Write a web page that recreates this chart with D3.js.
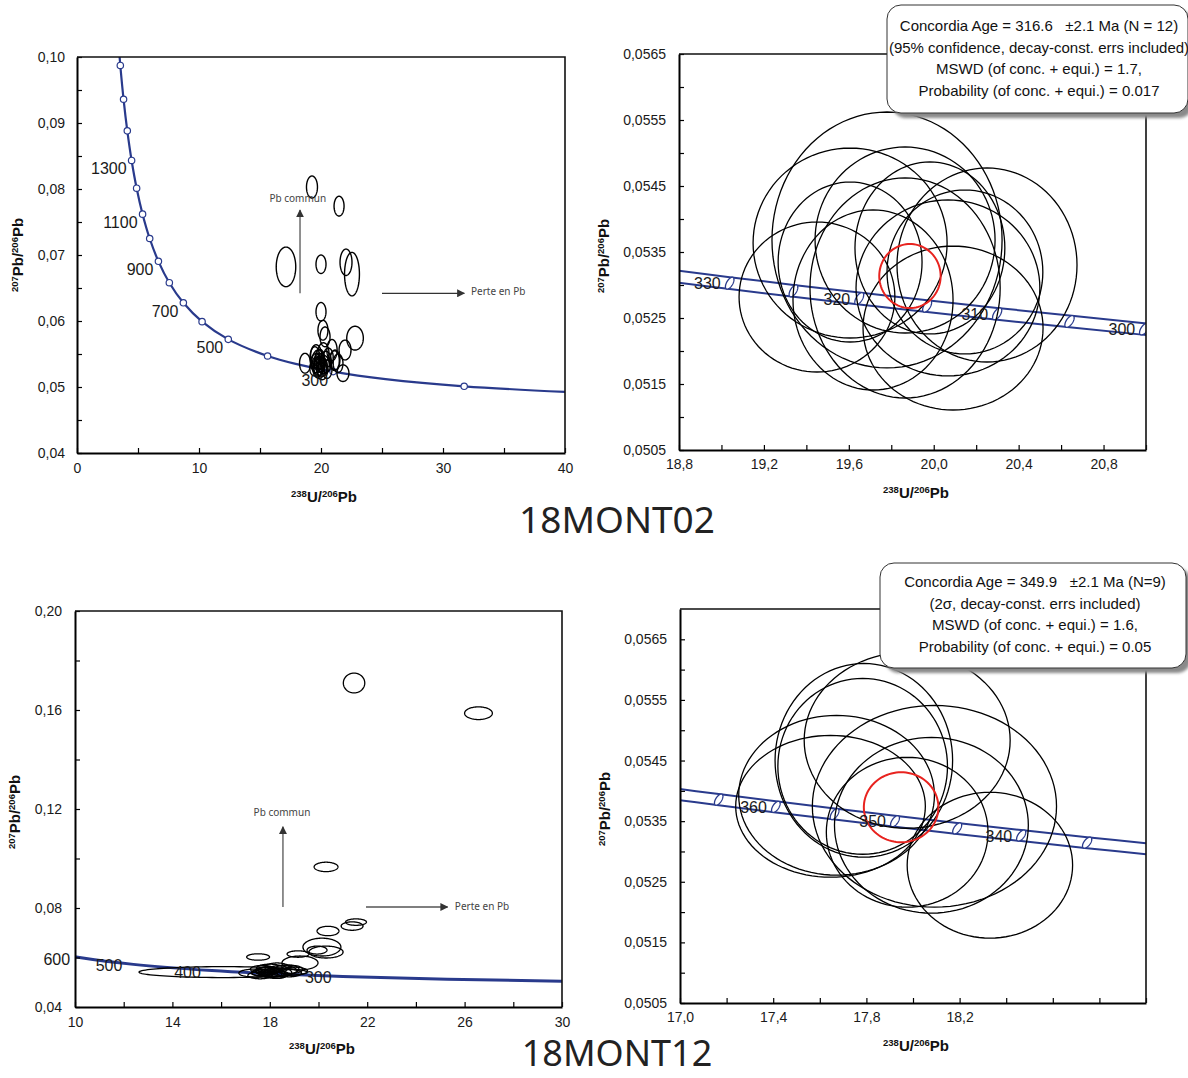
<!DOCTYPE html>
<html><head><meta charset="utf-8">
<script src="https://cdn.jsdelivr.net/npm/d3@7"></script>
<style>body{margin:0;background:#fff}svg{display:block}</style>
</head><body><svg id="c" width="1188" height="1078"></svg>
<script>
// ---------------- DATA ----------------
// Tera-Wasserburg concordia (age in Ma, 238U/206Pb, 207Pb/206Pb)
const concAges = [150,200,250,300,350,400,500,600,700,800,900,1000,1100,1200,1300,1400,1500,1600,1700];
const concX = [42.478,31.735,25.289,20.992,17.923,15.621,12.399,10.252,8.718,7.568,6.674,5.959,5.375,4.888,4.476,4.123,3.817,3.550,3.314];
const concY = [0.049045,0.050108,0.051204,0.052333,0.053499,0.054700,0.057220,0.059901,0.062757,0.065800,0.069042,0.072500,0.076188,0.080122,0.084324,0.088807,0.093597,0.098716,0.104185];
const p1MarkerAges = [200,300,400,500,600,700,800,900,1000,1100,1200,1300,1400,1500,1600];
const p1LabelAges = [300,500,700,900,1100,1300];
const p3LabelAges = [300,400,500,600];

// Concordia with decay-constant error band (zoomed panels)
const band02Ages = [295,300,305,310,315,320,325,330,335];
const band02X = [21.3560,20.9919,20.6397,20.2989,19.9689,19.6492,19.3393,19.0389,18.7474];
const band02Y = [0.0522187,0.0523333,0.0524482,0.0525634,0.0526791,0.0527950,0.0529114,0.0530281,0.0531452];
const band02Markers = [300,305,310,315,320,325,330];
const band02Labels = [300,310,320,330];
const band12Ages = [330,335,340,345,350,355,360,365,370];
const band12X = [19.0389,18.7474,18.4644,18.1897,17.9228,17.6635,17.4114,17.1661,16.9275];
const band12Y = [0.0530281,0.0531452,0.0532626,0.0533804,0.0534986,0.0536171,0.0537360,0.0538552,0.0539748];
const band12Markers = [335,340,345,350,355,360,365];
const band12Labels = [340,350,360];
const decayErrX = 0.00106, decayErrY = 0.0017, decayRho = 0.6;

// 18MONT02 concordant analyses (2 sigma ellipses)
const c02X  = [19.450,19.606,19.780,20.251,20.067,19.865,19.714,19.606,20.147,19.982,20.091,19.865];
const c02Y  = [0.052818,0.053636,0.053682,0.053303,0.052955,0.052955,0.052773,0.053348,0.053197,0.053561,0.052348,0.053682];
const c02SX = [0.367,0.457,0.542,0.424,0.433,0.448,0.377,0.339,0.367,0.353,0.424,0.424];
const c02SY = [0.001136,0.001439,0.001939,0.00147,0.001333,0.001667,0.001364,0.001212,0.001242,0.001303,0.001242,0.001409];
// 18MONT02 other analyses
const o02X  = [19.26,21.48,17.13,20.0,22.05,22.54,20.0,20.33,20.16,22.79,21.97,21.8,18.69,21.15,19.6,20.2,20.6,20.9,21.1,20.4,19.9,21.4,19.8,20.5,19.5];
const o02Y  = [0.0803,0.0774,0.0682,0.0686,0.0689,0.0671,0.0614,0.0576,0.0586,0.0574,0.0556,0.0521,0.0536,0.0541,0.0548,0.0552,0.0545,0.0556,0.0540,0.0538,0.0542,0.0536,0.0531,0.0527,0.0545];
const o02SX = [0.45,0.41,0.8,0.41,0.49,0.61,0.41,0.41,0.41,0.68,0.49,0.49,0.45,0.4,0.45,0.45,0.4,0.42,0.4,0.45,0.4,0.4,0.4,0.4,0.4];
const o02SY = [0.00167,0.0015,0.003,0.0014,0.002,0.0033,0.0014,0.0015,0.0015,0.0018,0.0015,0.00126,0.0015,0.0015,0.0016,0.0015,0.0014,0.0016,0.0015,0.0016,0.0015,0.0014,0.0015,0.0014,0.0016];
// Concordia age ellipse 18MONT02
const age02 = [19.888, 0.053136, 0.1446, 0.000485];

// 18MONT12 concordant analyses
const c12X  = [17.789,17.784,17.975,18.092,18.330,17.646,17.672,18.079,17.975];
const c12Y  = [0.054503,0.054404,0.054833,0.053745,0.052773,0.053745,0.053927,0.053432,0.053317];
const c12SX = [0.381,0.364,0.442,0.524,0.355,0.407,0.420,0.416,0.347];
const c12SY = [0.001598,0.00145,0.00145,0.001664,0.001203,0.00117,0.001318,0.00145,0.001236];
// 18MONT12 other analyses
const o12X  = [21.46,26.57,20.31,21.54,21.38,20.39,20.14,19.94,20.31,19.16,17.52,19.24,16.08,17.39,18.3,18.0,18.7,18.5,17.9,19.0,18.4,17.7,18.9,18.2,17.6,18.8];
const o12Y  = [0.1709,0.1587,0.0966,0.0743,0.0727,0.0707,0.0642,0.0630,0.0622,0.0614,0.0602,0.0578,0.0541,0.0537,0.0560,0.0556,0.0552,0.0548,0.0545,0.0545,0.0540,0.0553,0.0552,0.0533,0.0528,0.0537];
const o12SX = [0.44,0.57,0.49,0.43,0.45,0.45,0.78,0.41,0.7,0.45,0.47,0.74,3.45,0.66,0.5,0.55,0.5,0.6,0.45,0.55,0.5,0.5,0.45,0.55,0.5,0.5];
const o12SY = [0.004,0.00256,0.0019,0.0013,0.0017,0.0019,0.0036,0.0016,0.0024,0.0013,0.0013,0.0028,0.0022,0.0016,0.0018,0.0017,0.0018,0.002,0.0016,0.0016,0.0017,0.0015,0.0016,0.0017,0.0014,0.0015];
const age12 = [17.949, 0.053729, 0.160, 0.000577];

// Tick values and labels
const p1XMajor = [0,10,20,30,40], p1XMinor = [5,15,25,35], p1XLabels = ["0","10","20","30","40"];
const p1YMajor = [0.04,0.05,0.06,0.07,0.08,0.09,0.10], p1YMinor = [0.045,0.055,0.065,0.075,0.085,0.095];
const p1YLabels = ["0,04","0,05","0,06","0,07","0,08","0,09","0,10"];
const p2XMajor = [18.8,19.2,19.6,20.0,20.4,20.8], p2XMinor = [19.0,19.4,19.8,20.2,20.6,21.0];
const p2XLabels = ["18,8","19,2","19,6","20,0","20,4","20,8"];
const p2YMajor = [0.0505,0.0515,0.0525,0.0535,0.0545,0.0555,0.0565], p2YMinor = [0.051,0.052,0.053,0.054,0.055,0.056];
const p2YLabels = ["0,0505","0,0515","0,0525","0,0535","0,0545","0,0555","0,0565"];
const p3XMajor = [10,14,18,22,26,30], p3XMinor = [12,16,20,24,28], p3XLabels = ["10","14","18","22","26","30"];
const p3YMajor = [0.04,0.08,0.12,0.16,0.20], p3YMinor = [0.06,0.10,0.14,0.18], p3YLabels = ["0,04","0,08","0,12","0,16","0,20"];
const p4XMajor = [17.0,17.4,17.8,18.2], p4XMinor = [17.2,17.6,18.0,18.4,18.6,18.8,19.0], p4XLabels = ["17,0","17,4","17,8","18,2"];
const p4YMajor = [0.0505,0.0515,0.0525,0.0535,0.0545,0.0555,0.0565], p4YMinor = [0.051,0.052,0.053,0.054,0.055,0.056];
const p4YLabels = ["0,0505","0,0515","0,0525","0,0535","0,0545","0,0555","0,0565"];

const legend02 = ["Concordia Age = 316.6   \u00b12.1 Ma (N = 12)","(95% confidence, decay-const. errs included)","MSWD (of conc. + equi.) = 1.7,","Probability (of conc. + equi.) = 0.017"];
const legend12 = ["Concordia Age = 349.9   \u00b12.1 Ma (N=9)","(2\u03c3, decay-const. errs included)","MSWD (of conc. + equi.) = 1.6,","Probability (of conc. + equi.) = 0.05"];

// ---------------- DRAWING ----------------
const NAVY = "#293a8c";
const FONT = "'Liberation Sans', Arial, sans-serif";
const svg = d3.select("#c");
const defs = svg.append("defs");
defs.append("filter").attr("id","blur").append("feGaussianBlur").attr("stdDeviation",1.6);
defs.append("marker").attr("id","arr").attr("viewBox","0 0 10 10").attr("refX",9).attr("refY",5)
  .attr("markerWidth",8).attr("markerHeight",8).attr("markerUnits","userSpaceOnUse").attr("orient","auto")
  .append("path").attr("d","M0,0 L10,5 L0,10 Z").attr("fill","#333");

const zip = (a,b) => a.map((v,i)=>[v,b[i]]);

function ellipsePts(cx, cy, sx, sy, rho) {
  const r = Math.sqrt(1 - rho*rho), pts = [];
  for (let i = 0; i < 96; i++) {
    const t = i/96*2*Math.PI;
    pts.push([cx + sx*Math.cos(t), cy + sy*(rho*Math.cos(t) + r*Math.sin(t))]);
  }
  return pts;
}

function panel(o) {
  const x = d3.scaleLinear().domain(o.xDomain).range([o.left, o.right]);
  const y = d3.scaleLinear().domain(o.yDomain).range([o.bottom, o.top]);
  defs.append("clipPath").attr("id","clip"+o.id).append("rect")
    .attr("x",o.left).attr("y",o.top).attr("width",o.right-o.left).attr("height",o.bottom-o.top);
  const g = svg.append("g");
  const plot = g.append("g").attr("clip-path",`url(#clip${o.id})`);
  const fmt = (maj, lab) => v => { const i = maj.indexOf(v); return i >= 0 ? lab[i] : ""; };
  const gx = g.append("g").attr("transform",`translate(0,${o.bottom})`)
    .call(d3.axisBottom(x).tickValues(o.xMajor.concat(o.xMinor)).tickSizeInner(-5).tickSizeOuter(0)
      .tickPadding(o.xPad).tickFormat(fmt(o.xMajor, o.xLabels)));
  const gy = g.append("g").attr("transform",`translate(${o.left},0)`)
    .call(d3.axisLeft(y).tickValues(o.yMajor.concat(o.yMinor)).tickSizeInner(-5).tickSizeOuter(0)
      .tickPadding(o.yPad).tickFormat(fmt(o.yMajor, o.yLabels)));
  [gx, gy].forEach(a => {
    a.attr("font-family", FONT).attr("font-size", 14);
    a.select(".domain").attr("stroke","#000").attr("stroke-width",2);
    a.selectAll(".tick line").attr("stroke","#000").attr("stroke-width",1.2);
    a.selectAll(".tick text").attr("fill","#1a1a1a");
  });
  g.append("path").attr("d",`M${o.left},${o.top}H${o.right}V${o.bottom}`)
    .attr("fill","none").attr("stroke","#111").attr("stroke-width",1.6);
  // axis titles
  const xt = g.append("text").attr("x",o.xtx).attr("y",o.xty).attr("text-anchor","middle")
    .attr("font-family",FONT).attr("font-weight","bold").attr("fill","#111");
  xt.append("tspan").attr("font-size",9.5).attr("dy",-5).text("238");
  xt.append("tspan").attr("font-size",15).attr("dy",5).text("U/");
  xt.append("tspan").attr("font-size",9.5).attr("dy",-5).text("206");
  xt.append("tspan").attr("font-size",15).attr("dy",5).text("Pb");
  const yt = g.append("text").attr("transform",`translate(${o.ytx},${o.yty}) rotate(-90)`).attr("text-anchor","middle")
    .attr("font-family",FONT).attr("font-weight","bold").attr("fill","#111");
  yt.append("tspan").attr("font-size",9.5).attr("dy",-5).text("207");
  yt.append("tspan").attr("font-size",15).attr("dy",5).text("Pb/");
  yt.append("tspan").attr("font-size",9.5).attr("dy",-5).text("206");
  yt.append("tspan").attr("font-size",15).attr("dy",5).text("Pb");
  return {g, plot, x, y};
}

function drawEllipses(P, X, Y, SX, SY, color, width) {
  const line = d3.line().x(d => P.x(d[0])).y(d => P.y(d[1])).curve(d3.curveLinearClosed);
  P.plot.append("g").selectAll("path").data(X.map((v,i)=>ellipsePts(v, Y[i], SX[i], SY[i], 0)))
    .join("path").attr("d", line).attr("fill","none").attr("stroke",color).attr("stroke-width",width);
}

function ageLabels(P, ages, X, Y, ageList, dx, dy, size) {
  P.g.append("g").selectAll("text").data(ageList).join("text")
    .attr("x", a => P.x(X[ages.indexOf(a)]) - dx)
    .attr("y", a => P.y(Y[ages.indexOf(a)]) + dy)
    .attr("text-anchor","end").attr("font-family",FONT).attr("font-size",size).attr("fill","#1a1a1a")
    .text(a => a);
}

function arrowAnn(P, x1, y1, x2, y2, color) {
  P.g.append("line").attr("x1",P.x(x1)).attr("y1",P.y(y1)).attr("x2",P.x(x2)).attr("y2",P.y(y2))
    .attr("stroke",color).attr("stroke-width",1.3).attr("marker-end","url(#arr)");
}
function annText(P, x, y, t, anchor) {
  P.g.append("text").attr("x",P.x(x)).attr("y",P.y(y)).attr("dy","0.35em").attr("text-anchor",anchor)
    .attr("font-family","'Noto Sans', 'Open Sans', sans-serif").attr("font-size",10).attr("fill","#444").text(t);
}

function legendBox(x0, y0, w, h, cx, base, lines) {
  svg.append("rect").attr("x",x0+5).attr("y",y0+5).attr("width",w).attr("height",h).attr("rx",14)
    .attr("fill","#8a8a8a").attr("filter","url(#blur)");
  svg.append("rect").attr("x",x0).attr("y",y0).attr("width",w).attr("height",h).attr("rx",14)
    .attr("fill","#fff").attr("stroke","#333").attr("stroke-width",1);
  svg.append("g").selectAll("text").data(lines).join("text")
    .attr("x",cx).attr("y",(d,i)=>base + i*21.5).attr("text-anchor","middle").style("white-space","pre")
    .attr("font-family",FONT).attr("font-size",15).attr("fill","#111").text(d=>d);
}

// ---- Panel 1 : 18MONT02 overview ----
const P1 = panel({id:1,left:77,right:565,top:57,bottom:453,xDomain:[0,40],yDomain:[0.04,0.10],
  xMajor:p1XMajor,xMinor:p1XMinor,xLabels:p1XLabels,yMajor:p1YMajor,yMinor:p1YMinor,yLabels:p1YLabels,
  xPad:10,yPad:12,xtx:324,xty:502,ytx:23,yty:255});
P1.plot.append("path").datum(zip(concX, concY))
  .attr("d", d3.line().x(d=>P1.x(d[0])).y(d=>P1.y(d[1])).curve(d3.curveCatmullRom.alpha(0.5)))
  .attr("fill","none").attr("stroke",NAVY).attr("stroke-width",2.2);
P1.plot.append("g").selectAll("circle").data(p1MarkerAges).join("circle")
  .attr("cx", a => P1.x(concX[concAges.indexOf(a)])).attr("cy", a => P1.y(concY[concAges.indexOf(a)]))
  .attr("r",3.2).attr("fill","#fff").attr("stroke",NAVY).attr("stroke-width",1.2);
drawEllipses(P1, o02X, o02Y, o02SX, o02SY, "#000", 1.4);
drawEllipses(P1, c02X, c02Y, c02SX, c02SY, "#000", 1.4);
ageLabels(P1, concAges, concX, concY, p1LabelAges, 5, 14, 16);
arrowAnn(P1, 18.28, 0.0642, 18.28, 0.0768, "#555");
arrowAnn(P1, 25.0, 0.0642, 31.75, 0.0642, "#333");
annText(P1, 18.1, 0.0785, "Pb commun", "middle");
annText(P1, 32.3, 0.0644, "Perte en Pb", "start");

// ---- Panel 2 : 18MONT02 zoom ----
function bandPanel(P, bX, bY, bAges, markers, labels, cX, cY, cSX, cSY, age) {
  const line = d3.line().x(d=>P.x(d[0])).y(d=>P.y(d[1])).curve(d3.curveCatmullRom.alpha(0.5));
  [1, -1].forEach(s => {
    P.plot.append("path").datum(bX.map((v,i)=>[v, bY[i]*(1 + s*decayErrY)])).attr("d", line)
      .attr("fill","none").attr("stroke",NAVY).attr("stroke-width",2);
  });
  const el = d3.line().x(d=>P.x(d[0])).y(d=>P.y(d[1])).curve(d3.curveLinearClosed);
  P.plot.append("g").selectAll("path").data(markers).join("path")
    .attr("d", a => { const i = bAges.indexOf(a); return el(ellipsePts(bX[i], bY[i], bX[i]*decayErrX, bY[i]*decayErrY, decayRho)); })
    .attr("fill","#fff").attr("stroke",NAVY).attr("stroke-width",1.3);
  ageLabels(P, bAges, bX, bY, labels, 9, 6, 16);
  drawEllipses(P, cX, cY, cSX, cSY, "#000", 1.3);
  drawEllipses(P, [age[0]], [age[1]], [age[2]], [age[3]], "#e8231f", 2);
}
const P2 = panel({id:2,left:679,right:1146,top:54,bottom:450,xDomain:[18.8,21.0],yDomain:[0.0505,0.0565],
  xMajor:p2XMajor,xMinor:p2XMinor,xLabels:p2XLabels,yMajor:p2YMajor,yMinor:p2YMinor,yLabels:p2YLabels,
  xPad:9,yPad:13,xtx:916,xty:498,ytx:609,yty:256});
bandPanel(P2, band02X, band02Y, band02Ages, band02Markers, band02Labels, c02X, c02Y, c02SX, c02SY, age02);

// ---- Panel 3 : 18MONT12 overview ----
const P3 = panel({id:3,left:75,right:562,top:611,bottom:1007,xDomain:[10,30],yDomain:[0.04,0.20],
  xMajor:p3XMajor,xMinor:p3XMinor,xLabels:p3XLabels,yMajor:p3YMajor,yMinor:p3YMinor,yLabels:p3YLabels,
  xPad:10,yPad:13,xtx:322,xty:1054,ytx:20,yty:812});
P3.plot.append("path").datum(zip(concX, concY))
  .attr("d", d3.line().x(d=>P3.x(d[0])).y(d=>P3.y(d[1])).curve(d3.curveCatmullRom.alpha(0.5)))
  .attr("fill","none").attr("stroke",NAVY).attr("stroke-width",3);
drawEllipses(P3, o12X, o12Y, o12SX, o12SY, "#000", 1.3);
drawEllipses(P3, c12X, c12Y, c12SX, c12SY, "#000", 1.3);
ageLabels(P3, concAges, concX, concY, p3LabelAges, 11, 7, 16);
arrowAnn(P3, 18.54, 0.0804, 18.54, 0.1128, "#555");
arrowAnn(P3, 21.95, 0.0804, 25.3, 0.0804, "#555");
annText(P3, 18.5, 0.1184, "Pb commun", "middle");
annText(P3, 25.6, 0.0806, "Perte en Pb", "start");

// ---- Panel 4 : 18MONT12 zoom ----
const P4 = panel({id:4,left:680,right:1146,top:609,bottom:1003,xDomain:[17.0,19.0],yDomain:[0.0505,0.0570],
  xMajor:p4XMajor,xMinor:p4XMinor,xLabels:p4XLabels,yMajor:p4YMajor,yMinor:p4YMinor,yLabels:p4YLabels,
  xPad:9,yPad:13,xtx:916,xty:1051,ytx:610,yty:809});
bandPanel(P4, band12X, band12Y, band12Ages, band12Markers, band12Labels, c12X, c12Y, c12SX, c12SY, age12);

// ---- Legends ----
legendBox(887, 5, 301, 108, 1039, 31, legend02);
legendBox(880, 563, 306, 105, 1035, 587, legend12);

// ---- Titles ----
svg.append("text").attr("x",617).attr("y",533).attr("text-anchor","middle")
  .attr("font-family","'Noto Sans', 'Open Sans', sans-serif").attr("font-size",37).attr("fill","#222").text("18MONT02");
svg.append("text").attr("x",617).attr("y",1066).attr("text-anchor","middle")
  .attr("font-family","'Noto Sans', 'Open Sans', sans-serif").attr("font-size",36).attr("fill","#222").text("18MONT12");
</script></body></html>
